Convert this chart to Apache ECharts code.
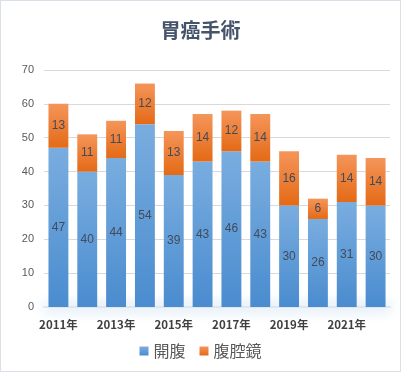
<!DOCTYPE html>
<html><head><meta charset="utf-8">
<script src="https://cdn.jsdelivr.net/npm/echarts@6/dist/echarts.min.js"></script>
<style>
html,body{margin:0;padding:0;background:#fff;}
#c{width:399px;height:370px;border:1px solid #dbe0e8;}
</style></head>
<body><div id="c"></div>
<script>
const title = '胃癌手術';
const categories = ['2011年','2012年','2013年','2014年','2015年','2016年','2017年','2018年','2019年','2020年','2021年','2022年'];
const seriesNames = ['開腹','腹腔鏡'];
const openValues = [47,40,44,54,39,43,46,43,30,26,31,30];
const lapValues = [13,11,11,12,13,14,12,14,16,6,14,14];
const yTicks = {min:0, max:70, interval:10};

const chart = echarts.init(document.getElementById('c'));
const grad = (top, bottom) => new echarts.graphic.LinearGradient(0,0,0,1,[{offset:0,color:top},{offset:1,color:bottom}]);
const labelStyle = {show:true, position:'inside', color:'#404b5c', fontSize:12, fontFamily:'Liberation Sans, Arial, sans-serif'};
chart.setOption({
  animation:false,
  title:{text:title, left:'center', top:14, textStyle:{fontSize:20, fontWeight:'bold', color:'#44546a', fontFamily:'"Noto Sans CJK JP", sans-serif'}},
  grid:{left:43, right:10, top:69, bottom:64, containLabel:false},
  legend:{bottom:7, left:'center', itemWidth:9, itemHeight:9, itemGap:14, icon:'rect',
    textStyle:{fontSize:16, color:'#595959', fontFamily:'"Noto Sans CJK JP", sans-serif'}},
  xAxis:{type:'category', data:categories,
    axisLine:{lineStyle:{color:'#dfe6ee', width:2, shadowBlur:14, shadowColor:'rgba(91,155,213,1)'}},
    axisTick:{show:false},
    axisLabel:{interval:1, color:'#404040', fontSize:11.5, fontWeight:'bold', margin:12, fontFamily:'"Noto Sans CJK JP", sans-serif'}},
  yAxis:{type:'value', min:yTicks.min, max:yTicks.max, interval:yTicks.interval,
    axisLine:{show:false}, axisTick:{show:false},
    axisLabel:{color:'#595959', fontSize:11, margin:10, fontFamily:'Liberation Sans, Arial, sans-serif'},
    splitLine:{lineStyle:{color:'#d9d9d9'}}},
  series:[
    {name:seriesNames[0], type:'bar', stack:'a', data:openValues, barCategoryGap:'31%',
      itemStyle:{color:grad('#79addf','#4a8ccf')}, label:labelStyle},
    {name:seriesNames[1], type:'bar', stack:'a', data:lapValues,
      itemStyle:{color:grad('#f5955a','#e46a16')}, label:labelStyle}
  ]
});
</script></body></html>
